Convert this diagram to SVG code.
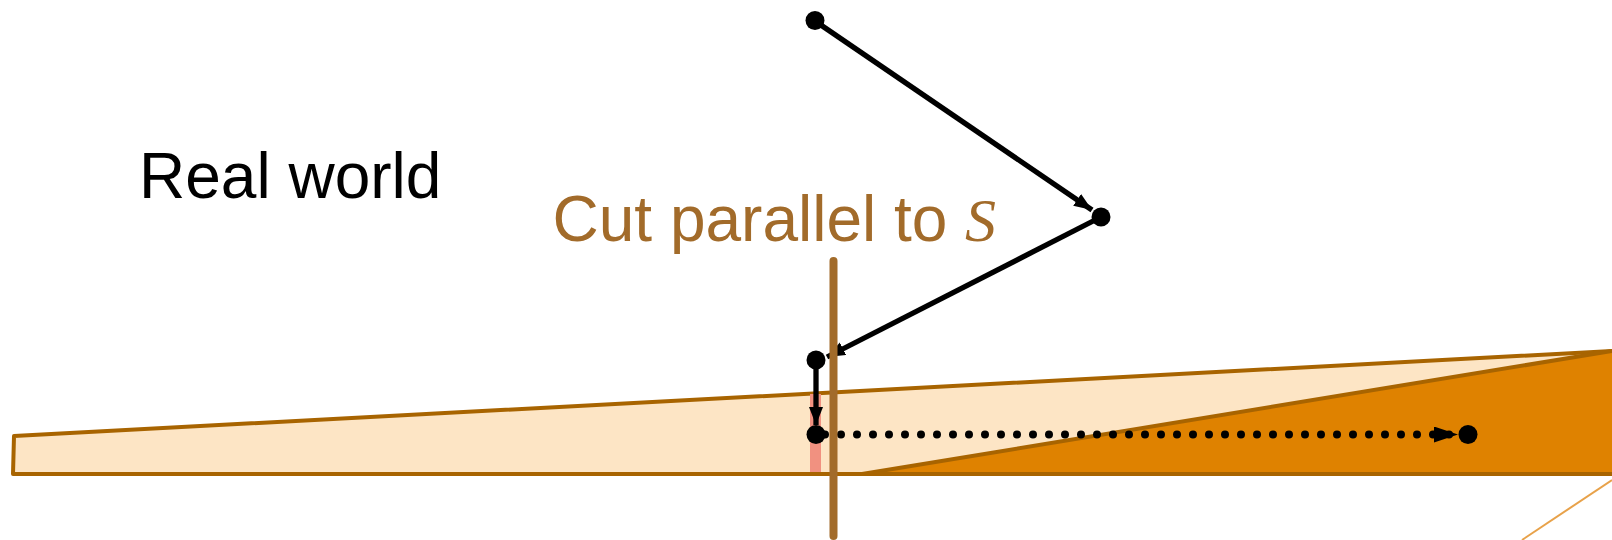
<svg xmlns="http://www.w3.org/2000/svg" width="1612" height="540" viewBox="0 0 1612 540">
<defs>
<style>
.ln{fill:none;stroke:#000;stroke-width:5.300}
.dot{fill:#000}
.edge{stroke:#a86400;stroke-width:4;stroke-linejoin:round}
.lab{font-family:"Liberation Sans",Arial,sans-serif;font-size:64px}
</style>
<marker id="ah" markerUnits="userSpaceOnUse" markerWidth="28" markerHeight="18" refX="24" refY="8" orient="auto"><path d="M0 0L24 8L0 16z" fill="#000"/></marker>
<marker id="ahs" markerUnits="userSpaceOnUse" markerWidth="20" markerHeight="16" refX="18" refY="7" orient="auto"><path d="M0 0L18 7L0 14z" fill="#000"/></marker>
</defs>
<g id="wedge">
<path class="edge" fill="#fde5c5" d="M14 436L1630 350V474H13z"/>
<path class="edge" fill="#df8200" d="M862 474L1630 348V474z"/>
</g>
<rect id="pink-segment" x="810" y="394" width="11" height="80" fill="#f19180"/>
<path id="bottom-edge" d="M13 474H1612" stroke="#a86400" stroke-width="4"/>
<line id="thin-line" x1="1522" y1="540" x2="1612" y2="480" stroke="#e8a24a" stroke-width="2"/>
<g id="connectors">
<line class="ln" x1="815" y1="21" x2="1092" y2="210" marker-end="url(#ahs)"/>
<line class="ln" x1="1101" y1="217" x2="827" y2="357" marker-end="url(#ahs)"/>
<line class="ln" x1="816" y1="360" x2="816" y2="425" marker-end="url(#ahs)"/>
<line x1="825" y1="434.500" x2="1458" y2="434.500" fill="none" stroke="#000" stroke-width="8" stroke-linecap="round" stroke-dasharray="0 16" marker-end="url(#ah)"/>
</g>
<line id="cut" x1="833.500" y1="261" x2="833.500" y2="536" stroke="#a26b2a" stroke-width="8" stroke-linecap="round"/>
<g id="p1"><circle class="dot" cx="815" cy="20.500" r="9.500"/></g>
<g id="p2"><circle class="dot" cx="1101" cy="217" r="9.500"/></g>
<g id="p3"><circle class="dot" cx="816" cy="360" r="9.500"/></g>
<g id="p4"><circle class="dot" cx="816" cy="434.500" r="9.500"/></g>
<g id="p5"><circle class="dot" cx="1468" cy="434.500" r="9.500"/></g>
<text id="real-world" class="lab" x="139" y="198">Real world</text>
<text id="cut-label" class="lab" x="552.500" y="241" fill="#a26b2a">Cut parallel to</text>
<text id="cut-s" x="965" y="241" font-size="62" fill="#a26b2a" font-style="italic" font-family="'Liberation Serif',serif">S</text>
</svg>
